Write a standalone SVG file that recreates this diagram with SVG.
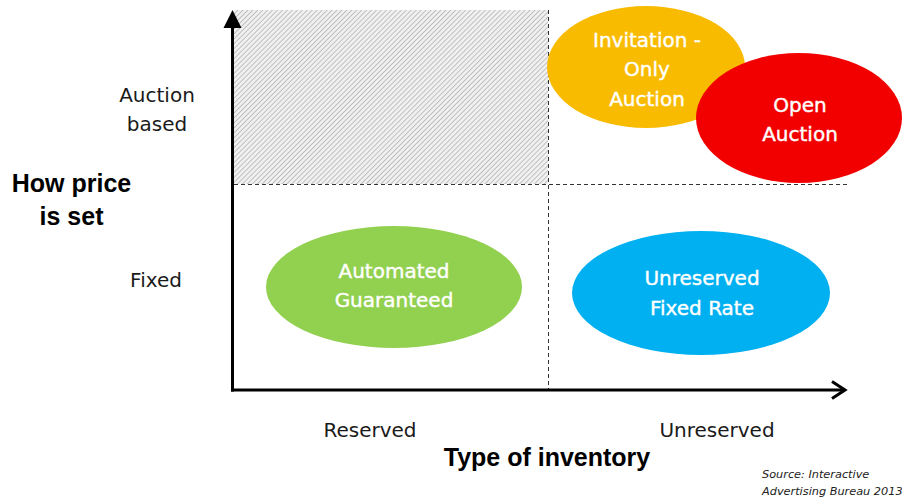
<svg xmlns="http://www.w3.org/2000/svg" width="902" height="501" viewBox="0 0 902 501">
  <defs>
    <pattern id="hatch" width="3.5" height="3.5" patternUnits="userSpaceOnUse" patternTransform="rotate(45)">
      <rect width="3.5" height="3.5" fill="#f0f0f0"/>
      <line x1="0" y1="0" x2="0" y2="3.5" stroke="#9a9a9a" stroke-width="1.1"/>
    </pattern>
  </defs>
  <style>
    .lab { font-family: "DejaVu Sans", sans-serif; font-size: 20px; fill: #1a1a1a; text-anchor: middle; }
    .ttl { font-family: "Liberation Sans", Arial, sans-serif; font-weight: bold; font-size: 25px; fill: #000; text-anchor: middle; }
    .nt { font-family: "DejaVu Sans", sans-serif; font-size: 20px; fill: #fff; stroke: #fff; stroke-width: 0.4; text-anchor: middle; }
    .src { font-family: "DejaVu Sans", sans-serif; font-style: italic; font-size: 11.3px; fill: #222; }
    .dash { stroke: #333; stroke-width: 1; stroke-dasharray: 4 3; fill: none; }
    .axis { stroke: #000; stroke-width: 3; fill: none; }
  </style>
  <rect width="902" height="501" fill="#fff"/>

  <rect id="hatched-region" x="234" y="10" width="314" height="174" fill="url(#hatch)"/>

  <g id="connectors">
    <line class="dash" x1="234" y1="184.5" x2="848" y2="184.5"/>
    <line class="dash" x1="548.5" y1="10" x2="548.5" y2="390"/>
    <line class="axis" x1="232.5" y1="391.5" x2="232.5" y2="26"/>
    <path d="M223.5,28 L232.5,10 L241.5,28 Z" fill="#000"/>
    <line class="axis" x1="231" y1="390" x2="844" y2="390"/>
    <path d="M832,381.5 L845,390 L832,398.5" fill="none" stroke="#000" stroke-width="3"/>
  </g>

  <g id="invitation-only-auction">
    <ellipse cx="646" cy="67" rx="99" ry="61" fill="#F9BB00"/>
    <text class="nt" x="647" y="47">Invitation -</text>
    <text class="nt" x="647" y="76">Only</text>
    <text class="nt" x="647" y="106">Auction</text>
  </g>
  <g id="open-auction">
    <ellipse cx="799" cy="118" rx="103" ry="65" fill="#F20000"/>
    <text class="nt" x="800" y="112">Open</text>
    <text class="nt" x="800" y="141">Auction</text>
  </g>
  <g id="automated-guaranteed">
    <ellipse cx="394" cy="287" rx="128" ry="61" fill="#92D050"/>
    <text class="nt" x="394" y="278">Automated</text>
    <text class="nt" x="394" y="307">Guaranteed</text>
  </g>
  <g id="unreserved-fixed-rate">
    <ellipse cx="701" cy="293" rx="129" ry="62" fill="#00B0F0"/>
    <text class="nt" x="702" y="285">Unreserved</text>
    <text class="nt" x="702" y="315">Fixed Rate</text>
  </g>

  <g id="y-labels">
    <text class="lab" x="157" y="102">Auction</text>
    <text class="lab" x="157" y="131">based</text>
    <text class="lab" x="156" y="287">Fixed</text>
    <text class="ttl" x="71.5" y="192">How price</text>
    <text class="ttl" x="71.5" y="225">is set</text>
  </g>
  <g id="x-labels">
    <text class="lab" x="370" y="437">Reserved</text>
    <text class="lab" x="717" y="437">Unreserved</text>
    <text class="ttl" x="547" y="466">Type of inventory</text>
  </g>
  <g id="source">
    <text class="src" x="762" y="478">Source: Interactive</text>
    <text class="src" x="762" y="495">Advertising Bureau 2013</text>
  </g>
</svg>
